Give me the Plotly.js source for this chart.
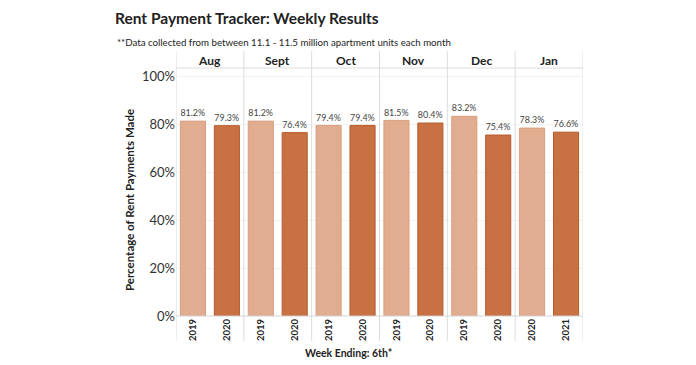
<!DOCTYPE html>
<html>
<head>
<meta charset="utf-8">
<script src="https://cdn.plot.ly/plotly-3.0.1.min.js"></script>
<style>html,body{margin:0;padding:0;background:#fff;}#chart{width:696px;height:365px;}</style>
</head>
<body>
<div id="chart"></div>
<script>
const months = ["Aug", "Sept", "Oct", "Nov", "Dec", "Jan"];
const years = ["2019", "2020", "2019", "2020", "2019", "2020", "2019", "2020", "2019", "2020", "2020", "2021"];
const values = [81.2, 79.3, 81.2, 76.4, 79.4, 79.4, 81.5, 80.4, 83.2, 75.4, 78.3, 76.6];
const yTicks = [0, 20, 40, 60, 80, 100];
const yTickLabels = ["0%", "20%", "40%", "60%", "80%", "100%"];

const LIGHT = "#e1ad90", LIGHT_EDGE = "#d89e7e";
const DARK = "#c87142", DARK_EDGE = "#b65a2c";
const FONT = "Lato, Open Sans, sans-serif";

const xs = values.map((v, i) => i);
const colors = values.map((v, i) => i % 2 === 0 ? LIGHT : DARK);
const edges = values.map((v, i) => i % 2 === 0 ? LIGHT_EDGE : DARK_EDGE);

const trace = {
  type: "bar",
  x: xs,
  y: values,
  width: 0.74,
  marker: {color: colors, line: {color: edges, width: 1}},
  texttemplate: "%{y:.1f}%",
  textposition: "outside",
  textfont: {family: FONT, size: 9.5, color: "#444"},
  cliponaxis: false,
  hoverinfo: "skip"
};

const plotTop = 68, plotBot = 316;
const ph = plotBot - plotTop;
const py = px => (plotBot - px) / ph;

const shapes = [];
for (let i = 0; i <= months.length; i++) {
  shapes.push({type: "line", xref: "x", yref: "paper", x0: 2 * i - 0.5, x1: 2 * i - 0.5,
    y0: py(341), y1: py(51), line: {color: "#dcdcdc", width: 1}});
}
shapes.push({type: "line", xref: "paper", yref: "paper", x0: 0, x1: 1, y0: 1, y1: 1, line: {color: "#dcdcdc", width: 1}});
shapes.push({type: "line", xref: "paper", yref: "paper", x0: 0, x1: 1, y0: 0, y1: 0, line: {color: "#d4d4d4", width: 1}});

const annotations = months.map((m, i) => ({
  xref: "x", yref: "paper", x: 2 * i + 0.5, y: py(60), text: m, showarrow: false,
  font: {family: FONT, size: 12, color: "#222", weight: 700}, yanchor: "middle"
}));
annotations.push({
  xref: "paper", yref: "paper", x: (115 - 176) / 407, y: py(42), xanchor: "left", yanchor: "middle",
  text: "**Data collected from between 11.1 - 11.5 million apartment units each month",
  showarrow: false, font: {family: FONT, size: 9.7, color: "#222"}
});
annotations.push({
  xref: "paper", yref: "paper", x: (348 - 176) / 407, y: py(353), xanchor: "center", yanchor: "middle",
  text: "Week Ending: 6th*", showarrow: false, font: {family: FONT, size: 10.5, color: "#222", weight: 700}
});
annotations.push({
  xref: "paper", yref: "paper", x: (129 - 176) / 407, y: py(200), xanchor: "center", yanchor: "middle",
  text: "Percentage of Rent Payments Made", textangle: -90, showarrow: false,
  font: {family: FONT, size: 11.5, color: "#222", weight: 700}
});

const layout = {
  width: 696, height: 365,
  margin: {l: 176, r: 113, t: plotTop, b: 365 - plotBot},
  paper_bgcolor: "#fff", plot_bgcolor: "#fff",
  showlegend: false,
  title: {
    text: "Rent Payment Tracker: Weekly Results",
    xref: "container", yref: "container", x: 115 / 696, y: 1 - 19 / 365,
    xanchor: "left", yanchor: "middle",
    font: {family: FONT, size: 15.5, color: "#222", weight: 700}
  },
  xaxis: {
    range: [-0.5, 11.5], tickmode: "array", tickvals: xs, ticktext: years,
    tickangle: -90, tickfont: {family: FONT, size: 9.5, color: "#222", weight: 700},
    showgrid: false, zeroline: false, showline: false, ticks: "", fixedrange: true
  },
  yaxis: {
    range: [0, (plotBot - plotTop) / 2.4], tickmode: "array", tickvals: yTicks, ticktext: yTickLabels,
    tickfont: {family: FONT, size: 13, color: "#333"},
    showgrid: true, gridcolor: "#f2f2f2", zeroline: false, showline: false, ticks: "", fixedrange: true
  },
  shapes: shapes,
  annotations: annotations
};

Plotly.newPlot("chart", [trace], layout, {displayModeBar: false, staticPlot: true});
</script>
</body>
</html>
